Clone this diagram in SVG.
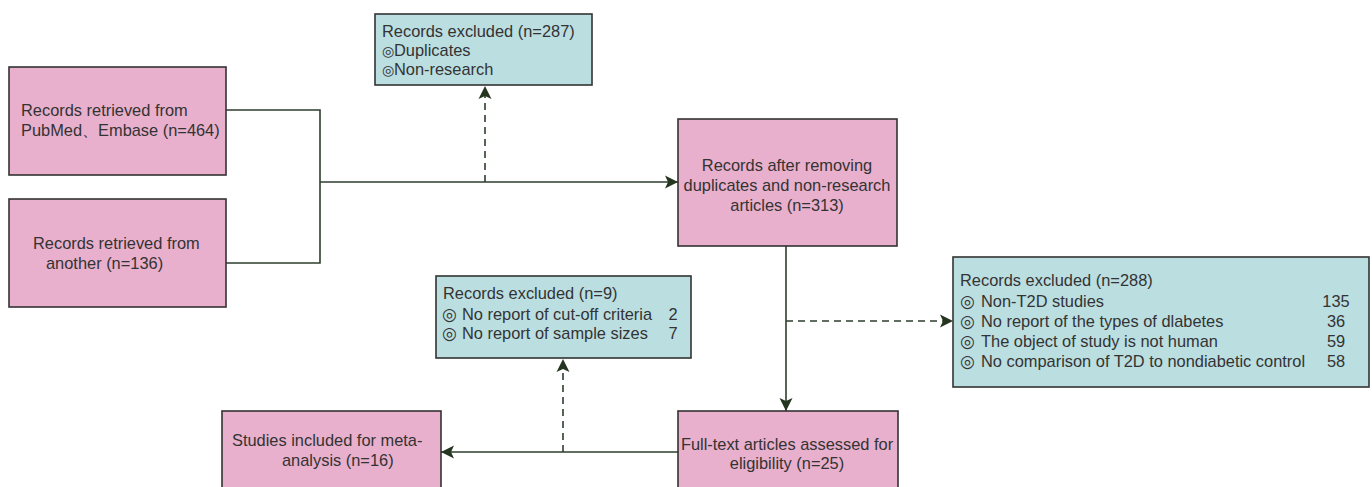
<svg xmlns="http://www.w3.org/2000/svg" width="1372" height="487" viewBox="0 0 1372 487">
<style>
.pink{fill:#E8B0CC;stroke:#333333;stroke-width:1.6}
.teal{fill:#BBDEE1;stroke:#333333;stroke-width:1.6}
text{font-family:"Liberation Sans","DejaVu Sans",Arial,sans-serif;font-size:16.4px;fill:#333333}
.b{font-family:"DejaVu Sans","Liberation Sans",sans-serif;font-size:17px}
.bs{font-family:"DejaVu Sans","Liberation Sans",sans-serif;font-size:14px}
.c{text-anchor:middle}
.ln{fill:none;stroke:#2E3E2E;stroke-width:1.6}
.ds{stroke-dasharray:7 5}
</style>
<defs>
<marker id="ah" markerUnits="userSpaceOnUse" markerWidth="14" markerHeight="14" viewBox="0 0 14 14" refX="13" refY="7" orient="auto">
<path d="M0,0.5 L13,7 L0,13.5 L3,7 z" fill="#24361F"/>
</marker>
</defs>
<g id="connectors">
<polyline class="ln" points="226,110 320,110 320,263 226,263"/>
<line class="ln" x1="320" y1="182" x2="678" y2="182" marker-end="url(#ah)"/>
<line class="ln ds" x1="485" y1="182" x2="485" y2="86" marker-end="url(#ah)"/>
<line class="ln" x1="786" y1="246" x2="786" y2="411" marker-end="url(#ah)"/>
<line class="ln ds" x1="786" y1="321" x2="953" y2="321" marker-end="url(#ah)"/>
<line class="ln" x1="678" y1="452" x2="441" y2="452" marker-end="url(#ah)"/>
<line class="ln ds" x1="563" y1="452" x2="563" y2="359" marker-end="url(#ah)"/>
</g>
<g id="nodeA">
<rect class="pink" x="9" y="67" width="217" height="108"/>
<text x="21" y="116">Records retrieved from</text>
<text x="21" y="136">PubMed、Embase (n=464)</text>
</g>
<g id="nodeB">
<rect class="pink" x="9" y="199" width="217" height="108"/>
<text x="33" y="249">Records retrieved from</text>
<text x="46" y="269">another (n=136)</text>
</g>
<g id="nodeC">
<rect class="teal" x="375" y="14" width="217" height="71"/>
<text x="382" y="37">Records excluded (n=287)</text>
<text y="56"><tspan class="bs" x="382">◎</tspan><tspan x="394">Duplicates</tspan></text>
<text y="75"><tspan class="bs" x="382">◎</tspan><tspan x="394">Non-research</tspan></text>
</g>
<g id="nodeD">
<rect class="pink" x="678" y="119" width="219" height="127"/>
<text class="c" x="787" y="171">Records after removing</text>
<text class="c" x="787" y="191">duplicates and non-research</text>
<text class="c" x="787" y="211">articles (n=313)</text>
</g>
<g id="nodeF">
<rect class="teal" x="953" y="257" width="416" height="130"/>
<text x="960" y="286">Records excluded (n=288)</text>
<text y="307"><tspan class="b" x="960">◎</tspan><tspan x="981">Non-T2D studies</tspan></text>
<text y="327"><tspan class="b" x="960">◎</tspan><tspan x="981">No report of the types of dlabetes</tspan></text>
<text y="347"><tspan class="b" x="960">◎</tspan><tspan x="981">The object of study is not human</tspan></text>
<text y="367"><tspan class="b" x="960">◎</tspan><tspan x="981">No comparison of T2D to nondiabetic control</tspan></text>
<text class="c" x="1336" y="307">135</text>
<text class="c" x="1336" y="327">36</text>
<text class="c" x="1336" y="347">59</text>
<text class="c" x="1336" y="367">58</text>
</g>
<g id="nodeG">
<rect class="teal" x="436" y="276" width="255" height="82"/>
<text x="443" y="299">Records excluded (n=9)</text>
<text y="320"><tspan class="b" x="442">◎</tspan><tspan x="462">No report of cut-off criteria</tspan></text>
<text y="339"><tspan class="b" x="442">◎</tspan><tspan x="462">No report of sample sizes</tspan></text>
<text class="c" x="673" y="320">2</text>
<text class="c" x="673" y="339">7</text>
</g>
<g id="nodeE">
<rect class="pink" x="678" y="411" width="220" height="90"/>
<text class="c" x="787" y="450">Full-text articles assessed for</text>
<text class="c" x="787" y="469">eligibility (n=25)</text>
</g>
<g id="nodeH">
<rect class="pink" x="222" y="411" width="219" height="90"/>
<text x="232" y="446">Studies included for meta-</text>
<text x="282" y="466">analysis (n=16)</text>
</g>
</svg>
